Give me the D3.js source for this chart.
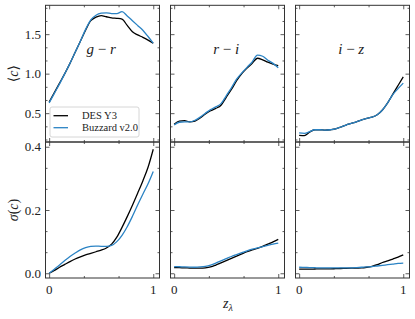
<!DOCTYPE html>
<html><head><meta charset="utf-8">
<script src="https://cdn.jsdelivr.net/npm/d3@7"></script>
<style>
html,body{margin:0;padding:0;background:#fff;}
svg{display:block;font-family:"Liberation Serif","DejaVu Serif",serif;}
</style></head>
<body>
<svg id="chart" width="415" height="319"></svg>
<script>
// ---- data ----
const zLambda = [0,0.05,0.10,0.15,0.20,0.25,0.30,0.35,0.40,0.45,0.50,0.55,0.60,0.65,0.70,0.75,0.80,0.85,0.90,0.95,1.00];
const colorNames = ["g - r","r - i","i - z"];
const seriesNames = ["DES Y3","Buzzard v2.0"];

const meanGR_des = [0.64,0.76,0.88,1.00,1.13,1.27,1.41,1.55,1.67,1.715,1.735,1.72,1.705,1.70,1.69,1.61,1.53,1.49,1.46,1.425,1.385];
const meanGR_buz = [0.63,0.75,0.87,1.00,1.13,1.27,1.41,1.56,1.68,1.74,1.765,1.77,1.76,1.76,1.785,1.73,1.67,1.61,1.55,1.47,1.385];
const meanRI_des = [0.36,0.40,0.405,0.39,0.40,0.44,0.49,0.53,0.56,0.60,0.70,0.80,0.91,1.00,1.07,1.13,1.195,1.175,1.145,1.12,1.10];
const meanRI_buz = [0.35,0.385,0.39,0.39,0.41,0.45,0.50,0.545,0.58,0.62,0.72,0.82,0.93,1.01,1.08,1.15,1.235,1.22,1.17,1.13,1.075];
const meanIZ_des = [0.22,0.215,0.26,0.29,0.29,0.285,0.29,0.30,0.325,0.35,0.37,0.39,0.415,0.435,0.45,0.48,0.54,0.63,0.74,0.85,0.96];
const meanIZ_buz = [0.25,0.245,0.265,0.29,0.29,0.285,0.29,0.30,0.325,0.35,0.37,0.39,0.415,0.435,0.45,0.48,0.54,0.63,0.735,0.81,0.88];

const sigGR_des = [0.0,0.009,0.019,0.028,0.037,0.045,0.052,0.058,0.063,0.068,0.073,0.08,0.092,0.114,0.145,0.179,0.215,0.253,0.292,0.335,0.392];
const sigGR_buz = [0.0,0.013,0.026,0.04,0.053,0.064,0.074,0.081,0.085,0.086,0.085,0.085,0.088,0.10,0.12,0.147,0.18,0.216,0.25,0.283,0.322];
const sigRI_des = [0.018,0.0175,0.017,0.0165,0.016,0.016,0.017,0.02,0.026,0.033,0.04,0.047,0.054,0.061,0.068,0.074,0.079,0.085,0.092,0.099,0.107];
const sigRI_buz = [0.021,0.0205,0.02,0.0195,0.019,0.02,0.022,0.026,0.032,0.039,0.046,0.053,0.059,0.065,0.071,0.076,0.08,0.084,0.088,0.092,0.095];
const sigIZ_des = [0.013,0.013,0.013,0.0135,0.014,0.014,0.014,0.0145,0.015,0.0155,0.016,0.0165,0.017,0.019,0.022,0.027,0.034,0.039,0.045,0.051,0.058];
const sigIZ_buz = [0.019,0.0185,0.018,0.0175,0.017,0.017,0.017,0.017,0.017,0.017,0.017,0.018,0.019,0.020,0.021,0.023,0.025,0.027,0.029,0.031,0.032];

const meanTicks = [0.5,1.0,1.5];
const sigmaTicks = [0.0,0.2,0.4];
const xTicks = [0,1];

// ---- layout ----
const svg = d3.select("#chart");
const colLeft = [45.5,170.5,295.5];
const panelW = 114;
const rows = [{top:5.3,bottom:142},{top:142,bottom:278}];
const lineColors = ["#000000","#2b83c4"];

const x = d3.scaleLinear().domain([-0.035,1.06]);
const yTop = d3.scaleLinear().domain([0.135,1.865]).range([rows[0].bottom,rows[0].top]);
const yBot = d3.scaleLinear().domain([-0.015,0.415]).range([rows[1].bottom,rows[1].top]);

const meanData = [[meanGR_des,meanGR_buz],[meanRI_des,meanRI_buz],[meanIZ_des,meanIZ_buz]];
const sigData = [[sigGR_des,sigGR_buz],[sigRI_des,sigRI_buz],[sigIZ_des,sigIZ_buz]];

function minorBetween(ticks, n){
  const out=[]; const step=(ticks[1]-ticks[0])/n;
  const lo=ticks[0]-step*n, hi=ticks[ticks.length-1]+step*n;
  for(let v=lo; v<=hi+1e-9; v+=step){ if(!ticks.some(t=>Math.abs(t-v)<1e-9)) out.push(+v.toFixed(6)); }
  return out;
}

function drawPanel(ci, ri){
  const xs = x.copy().range([colLeft[ci], colLeft[ci]+panelW]);
  const ys = ri===0 ? yTop : yBot;
  const yMaj = ri===0 ? meanTicks : sigmaTicks;
  const yMin = minorBetween(yMaj,3).filter(v=>v>ys.domain()[0]&&v<ys.domain()[1]);
  const xMin = [1/3,2/3];
  const g = svg.append("g");
  const clipId = `clip${ci}${ri}`;
  svg.append("clipPath").attr("id",clipId).append("rect")
    .attr("x",colLeft[ci]).attr("y",rows[ri].top).attr("width",panelW).attr("height",rows[ri].bottom-rows[ri].top);

  const data = ri===0 ? meanData[ci] : sigData[ci];
  const line = d3.line().x((d,i)=>xs(zLambda[i])).y(d=>ys(d)).curve(d3.curveMonotoneX);
  [0,1].forEach(s=>{
    g.append("path").attr("clip-path",`url(#${clipId})`)
      .datum(data[s]).attr("d",line).attr("fill","none")
      .attr("stroke",lineColors[s]).attr("stroke-width",1.3).attr("stroke-linejoin","round");
  });

  const L = colLeft[ci], R = colLeft[ci]+panelW, T = rows[ri].top, B = rows[ri].bottom;
  const tickStroke = "#333";
  const mk = (axisFn, scale, vals, size) => axisFn(scale).tickValues(vals).tickSize(-size).tickFormat("");
  const addAxis = (axis, tx, ty) => {
    const a = g.append("g").attr("transform",`translate(${tx},${ty})`).call(axis);
    a.select(".domain").remove();
    a.selectAll("line").attr("stroke",tickStroke).attr("stroke-width",0.8);
    return a;
  };
  addAxis(mk(d3.axisLeft, ys, yMaj, 4), L, 0);
  addAxis(mk(d3.axisLeft, ys, yMin, 2), L, 0);
  addAxis(mk(d3.axisRight, ys, yMaj, 4), R, 0);
  addAxis(mk(d3.axisRight, ys, yMin, 2), R, 0);
  addAxis(mk(d3.axisBottom, xs, xTicks, 4), 0, B);
  addAxis(mk(d3.axisBottom, xs, xMin, 2), 0, B);
  addAxis(mk(d3.axisTop, xs, xTicks, 4), 0, T);
  addAxis(mk(d3.axisTop, xs, xMin, 2), 0, T);

  g.append("rect").attr("x",L).attr("y",T).attr("width",panelW).attr("height",B-T)
    .attr("fill","none").attr("stroke","#333").attr("stroke-width",1);

  if (ci===0){
    const fmt = d3.format(".1f");
    yMaj.forEach(v=>{
      g.append("text").attr("x",L-4.5).attr("y",ys(v)).attr("dy","0.35em")
        .attr("text-anchor","end").attr("font-size",13).attr("fill","#222").text(fmt(v));
    });
  }
  if (ri===1){
    xTicks.forEach(v=>{
      g.append("text").attr("x",xs(v)).attr("y",B+16)
        .attr("text-anchor","middle").attr("font-size",13).attr("fill","#222").text(d3.format("d")(v));
    });
  }
  if (ri===0){
    const parts = colorNames[ci].split(" - ");
    const t = g.append("text").attr("x",xs(0.5)).attr("y",54).attr("text-anchor","middle")
      .attr("font-size",15).attr("fill","#222");
    t.append("tspan").attr("font-style","italic").text(parts[0]);
    t.append("tspan").text(" \u2212 ");
    t.append("tspan").attr("font-style","italic").text(parts[1]);
  }
}

for (let ri=0; ri<2; ri++) for (let ci=0; ci<3; ci++) drawPanel(ci,ri);

// y labels
const yl1 = svg.append("text").attr("transform",`translate(13.5,${(rows[0].top+rows[0].bottom)/2}) rotate(-90)`)
  .attr("text-anchor","middle").attr("dy","0.35em").attr("font-size",14).attr("fill","#222");
yl1.append("tspan").text("\u27E8");
yl1.append("tspan").attr("font-style","italic").text("c");
yl1.append("tspan").text("\u27E9");
const yl2 = svg.append("text").attr("transform",`translate(13.5,${(rows[1].top+rows[1].bottom)/2}) rotate(-90)`)
  .attr("text-anchor","middle").attr("dy","0.35em").attr("font-size",14).attr("fill","#222");
yl2.append("tspan").attr("font-style","italic").text("\u03C3");
yl2.append("tspan").text("(");
yl2.append("tspan").attr("font-style","italic").text("c");
yl2.append("tspan").text(")");

// x label
const xl = svg.append("text").attr("x",228).attr("y",308).attr("text-anchor","middle")
  .attr("font-size",14).attr("fill","#222");
xl.append("tspan").attr("font-style","italic").text("z");
xl.append("tspan").attr("font-size",10).attr("dy",3).attr("font-style","italic").text("\u03BB");

// legend
const lg = svg.append("g").attr("transform","translate(50,107)");
lg.append("rect").attr("width",89).attr("height",30).attr("rx",2)
  .attr("fill","#fff").attr("fill-opacity",0.85).attr("stroke","#ccc").attr("stroke-width",0.8);
seriesNames.forEach((n,i)=>{
  const yy = 8.7 + i*12;
  lg.append("line").attr("x1",3.5).attr("x2",18).attr("y1",yy).attr("y2",yy)
    .attr("stroke",lineColors[i]).attr("stroke-width",1.3);
  lg.append("text").attr("x",32).attr("y",yy).attr("dy","0.35em").attr("font-size",10.5)
    .attr("fill","#222").text(n);
});
</script>
</body></html>
